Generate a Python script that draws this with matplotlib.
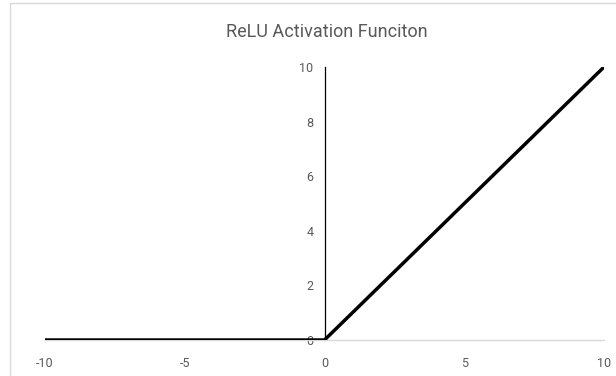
import matplotlib.pyplot as plt
from matplotlib.patches import Rectangle

# ReLU sampled at the ends and the kink
x_vals = [-10, 0, 10]
y_vals = [0, 0, 10]
x_ticks = [-10, -5, 0, 5, 10]
y_ticks = [0, 2, 4, 6, 8, 10]
title = "ReLU Activation Funciton"

plt.rcParams['font.family'] = ['Roboto', 'DejaVu Sans']
plt.rcParams['axes.unicode_minus'] = False
label_color = '#595959'

fig = plt.figure(figsize=(6.16, 3.76), dpi=100)
W, H = 616, 376

# chart border
fig.patches.append(Rectangle((10 / W, -0.1), 1.1, 1.1 - 3 / H,
                             transform=fig.transFigure, fill=False,
                             edgecolor='#d9d9d9', linewidth=1))

ax = fig.add_axes([45 / W, (H - 340) / H, (604 - 45) / W, (340 - 67) / H])
ax.plot(x_vals, y_vals, color='black', linewidth=2.5, solid_capstyle='round',
        solid_joinstyle='miter', zorder=3)

ax.set_xlim(-10, 10)
ax.set_ylim(0, 10)
ax.set_xticks(x_ticks)
ax.set_yticks(y_ticks)

for s in ['top', 'right']:
    ax.spines[s].set_visible(False)
ax.spines['left'].set_position(('data', 0))
ax.spines['left'].set_color('black')
ax.spines['left'].set_linewidth(0.9)
ax.spines['bottom'].set_color('#d9d9d9')
ax.spines['bottom'].set_linewidth(1.0)

ax.tick_params(axis='both', length=0, labelsize=9, labelcolor=label_color)
ax.tick_params(axis='x', pad=12)
ax.tick_params(axis='y', pad=8)
ax.set_facecolor('none')

fig.text(327 / W, 1 - 32 / H, title, ha='center', va='center',
         fontsize=13, color=label_color)

fig.savefig('out.png', dpi=100)
